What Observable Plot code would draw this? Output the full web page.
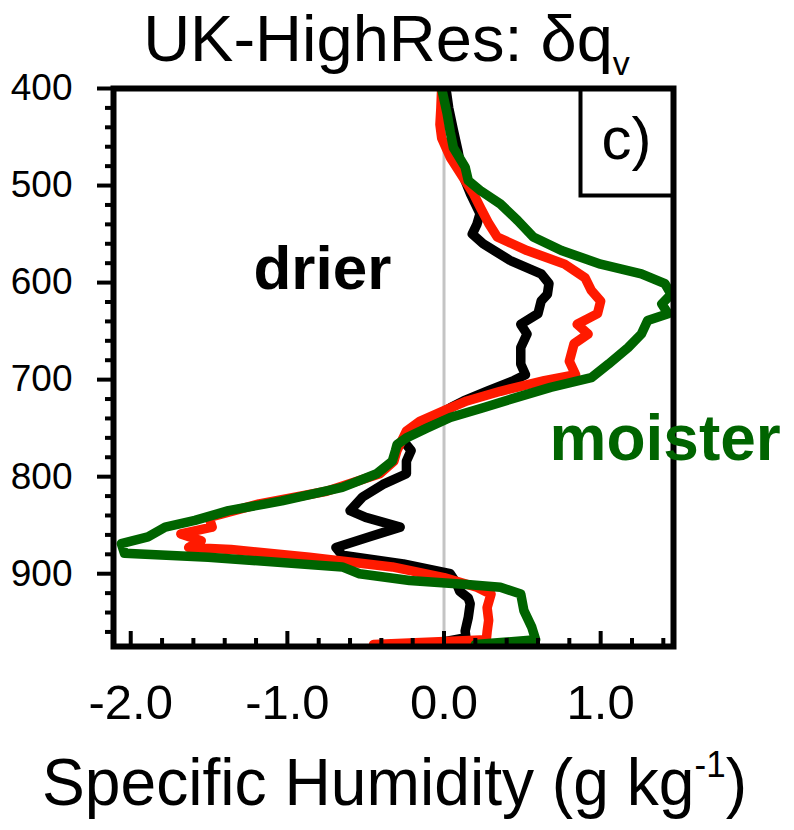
<!DOCTYPE html>
<html>
<head>
<meta charset="utf-8">
<script src="https://cdn.jsdelivr.net/npm/d3@7"></script>
<script src="https://cdn.jsdelivr.net/npm/@observablehq/plot@0.6"></script>
<style>
  html, body { margin: 0; padding: 0; background: #fff; }
  #chart svg { display: block; }
</style>
</head>
<body>
<div id="chart"></div>
<script>
// ---- text ----
const titleText = "UK-HighRes: δq";
const titleSub = "v";
const xLabelText = "Specific Humidity (g kg";
const xLabelSup = "-1";
const xLabelClose = ")";
const panelLabel = ["c)"];
const drierLabel = ["drier"];
const moisterLabel = ["moister"];

// ---- ticks ----
const xTicks = [-2, -1, 0, 1];
const xTickLabels = ["-2.0", "-1.0", "0.0", "1.0"];
const xMinorTicks = [-1.8, -1.6, -1.4, -1.2, -0.8, -0.6, -0.4, -0.2, 0.2, 0.4, 0.6, 0.8, 1.2, 1.4];
const yTicks = [400, 500, 600, 700, 800, 900];
const yTickLabels = ["400", "500", "600", "700", "800", "900"];
const yMinorTicks = [420, 440, 460, 480, 520, 540, 560, 580, 620, 640, 660, 680,
                     720, 740, 760, 780, 820, 840, 860, 880, 920, 940, 960];
const zeroLine = [0];

// ---- series (pressure hPa, specific humidity difference g/kg) ----
const pBlack = [400,405,420,443,465,487,509,529,540,550,560,577,591,601,612,619,632,643,653,667,
                684,695,701,712,722,729,740,753,763,773,784,797,808,821,835,842,852,862,873,881,
                890,900,910,918,925,931,945,959,966,973];
const qBlack = [0.0,0.017,0.03,0.06,0.09,0.115,0.17,0.23,0.21,0.18,0.25,0.42,0.62,0.67,0.66,0.62,0.60,0.49,0.53,0.49,
                0.49,0.52,0.445,0.275,0.125,0.04,-0.08,-0.22,-0.26,-0.21,-0.24,-0.24,-0.39,-0.52,-0.60,-0.50,-0.28,-0.475,-0.69,-0.65,
                -0.26,0.04,0.08,0.10,0.155,0.167,0.155,0.135,0.14,-0.1];

const pRed = [400,420,437,451,471,495,509,522,539,553,567,581,595,608,619,632,643,653,663,681,
              695,701,712,722,732,743,753,763,773,784,797,815,828,842,852,859,866,873,875,883,
              893,904,914,921,935,948,960,968,973];
const qRed = [-0.015,-0.02,-0.026,-0.015,0.04,0.135,0.19,0.23,0.285,0.34,0.53,0.77,0.9,0.94,1.0,0.98,0.85,0.92,0.83,0.80,
              0.84,0.64,0.36,0.146,0.0,-0.155,-0.24,-0.27,-0.30,-0.32,-0.41,-0.75,-1.18,-1.50,-1.48,-1.68,-1.55,-1.63,-1.36,-0.86,
              -0.33,0.0,0.21,0.30,0.275,0.285,0.275,0.27,-0.45];

const pGreen = [400,426,445,461,481,495,505,519,536,553,567,581,591,601,612,622,632,639,653,667,
                684,698,708,718,729,739,750,760,767,773,784,797,811,825,835,845,852,862,869,879,
                883,893,900,907,911,914,921,938,955,968,973];
const qGreen = [-0.015,0.02,0.04,0.06,0.135,0.155,0.23,0.36,0.47,0.57,0.75,1.0,1.26,1.41,1.45,1.39,1.43,1.30,1.26,1.175,
                1.05,0.94,0.68,0.47,0.25,0.04,-0.11,-0.24,-0.30,-0.31,-0.33,-0.43,-0.65,-1.035,-1.376,-1.59,-1.78,-1.89,-2.06,-2.04,
                -1.505,-0.65,-0.54,-0.22,0.146,0.36,0.49,0.51,0.56,0.585,0.2];

const toRows = (P, Q) => P.map((p, i) => ({p, q: Q[i]}));
const black = toRows(pBlack, qBlack);
const red = toRows(pRed, qRed);
const green = toRows(pGreen, qGreen);

// ---- layout ----
const W = 794, H = 830;
const mL = 113, mR = 121, mT = 88, mB = 184;
const plotW = W - mL - mR, plotH = H - mT - mB;
const FONT = "'Liberation Sans', Arial, Helvetica, sans-serif";
const lineStyle = {strokeWidth: 9.5, strokeLinejoin: "round", strokeLinecap: "round", clip: true};

const svg = Plot.plot({
  width: W,
  height: H,
  marginLeft: mL, marginRight: mR, marginTop: mT, marginBottom: mB,
  style: {fontFamily: FONT, background: "white", color: "black"},
  x: {domain: [-2.11, 1.465], axis: null},
  y: {domain: [400, 975], reverse: true, axis: null},
  marks: [
    Plot.ruleX(zeroLine, {x: d => d, stroke: "#c4c4c4", strokeWidth: 3}),
    Plot.line(black, {x: "q", y: "p", stroke: "#000000", ...lineStyle}),
    Plot.line(red, {x: "q", y: "p", stroke: "#ff1a00", ...lineStyle}),
    Plot.line(green, {x: "q", y: "p", stroke: "#006400", ...lineStyle}),
    // ticks
    Plot.ruleX(xTicks, {x: d => d, insetTop: plotH - 15, stroke: "black", strokeWidth: 4}),
    Plot.ruleX(xMinorTicks, {x: d => d, insetTop: plotH - 8, stroke: "black", strokeWidth: 4}),
    Plot.ruleY(yTicks, {y: d => d, insetLeft: -16, insetRight: plotW, stroke: "black", strokeWidth: 4}),
    Plot.ruleY(yMinorTicks, {y: d => d, insetLeft: -8, insetRight: plotW, stroke: "black", strokeWidth: 4}),
    Plot.frame({stroke: "black", strokeWidth: 6}),
    // panel label box
    Plot.frame({stroke: "black", strokeWidth: 4, insetLeft: 467, insetBottom: 451}),
    Plot.text(panelLabel, {text: d => d, frameAnchor: "top-right", textAnchor: "middle", lineAnchor: "bottom",
      dx: -47, dy: 70, fontSize: 60, fill: "black"}),
    // tick labels
    Plot.text(xTicks, {x: d => d, text: (d, i) => xTickLabels[i], frameAnchor: "bottom", lineAnchor: "bottom",
      dy: 72, fontSize: 49, fill: "black"}),
    Plot.text(yTicks, {y: d => d, text: (d, i) => yTickLabels[i], frameAnchor: "left", textAnchor: "end",
      dx: -41, fontSize: 37, fill: "black"}),
    // annotations
    Plot.text(drierLabel, {text: d => d, frameAnchor: "top-left", textAnchor: "start", lineAnchor: "bottom",
      dx: 140, dy: 200, fontSize: 62, fontWeight: "bold", fill: "black"}),
    Plot.text(moisterLabel, {text: d => d, frameAnchor: "top-right", textAnchor: "start", lineAnchor: "bottom",
      dx: -124, dy: 371, fontSize: 64, fontWeight: "bold", fill: "#006400"}),
    // title and axis label
    Plot.text([titleText], {text: d => d, frameAnchor: "top", lineAnchor: "bottom", dx: -7, dy: -28,
      fontSize: 65, fill: "black"}),
    Plot.text([xLabelText], {text: d => d, frameAnchor: "bottom", lineAnchor: "bottom", dx: 1, dy: 158,
      fontSize: 66, fill: "black"})
  ]
});

// sub/superscripts as real text
d3.select(svg).selectAll("text").each(function() {
  const t = this.textContent;
  if (t === titleText) {
    d3.select(this).append("tspan").attr("dy", "14").attr("font-size", "34").text(titleSub);
  } else if (t === xLabelText) {
    const sel = d3.select(this);
    sel.append("tspan").attr("dy", "-28").attr("font-size", "36").text(xLabelSup);
    sel.append("tspan").attr("dy", "28").text(xLabelClose);
    sel.attr("textLength", 705).attr("lengthAdjust", "spacingAndGlyphs");
  }
});

document.getElementById("chart").appendChild(svg);
</script>
</body>
</html>
